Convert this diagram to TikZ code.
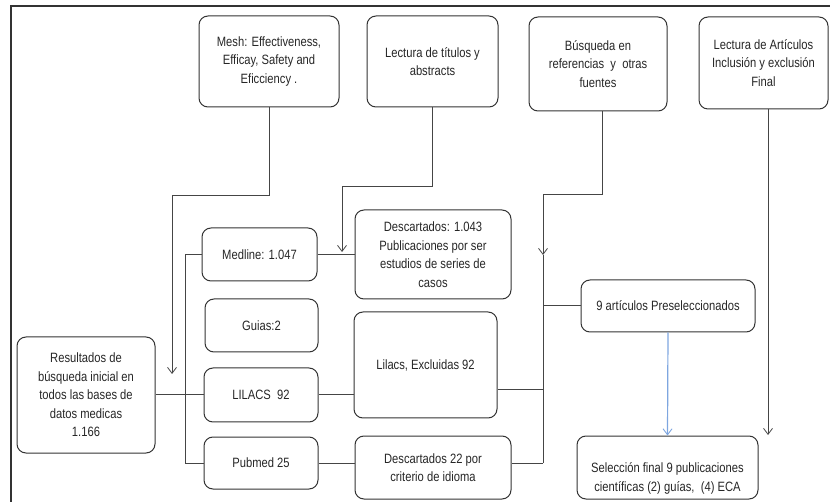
\documentclass[tikz,border=0pt]{standalone}
\usepackage{fontspec}
\setmainfont[FakeStretch=0.83]{Liberation Sans}
\usetikzlibrary{arrows.meta,calc}
\definecolor{boxline}{HTML}{333333}
\definecolor{connline}{HTML}{454545}
\definecolor{txtcol}{HTML}{262626}
\definecolor{linkblue}{HTML}{7EA6E0}
\begin{document}
\begin{tikzpicture}[x=1pt,y=-1pt,
  box/.style={draw=boxline,line width=1pt,rounded corners=9pt,align=center,inner sep=2pt,
    text=txtcol,font=\fontsize{13.5}{18.5}\selectfont},
  conn/.style={draw=connline,line width=1pt},
  arr/.style={conn,-{Straight Barb[length=6pt,width=9pt,line width=0.8pt]}},
  bluearr/.style={draw=linkblue,line width=1.2pt,-{Straight Barb[length=6pt,width=9pt,line width=0.9pt]}},
  txt/.style={align=center,inner sep=0pt,text=txtcol,font=\fontsize{13.5}{18.5}\selectfont}]
\useasboundingbox (0,0) rectangle (830,502);
\draw[boxline,line width=1.2pt] (11,502) -- (11,6) -- (830,6);

% top row
\node[box,minimum width=140pt,minimum height=91pt] (mesh) at (269,61.5)
  {Mesh: Effectiveness,\\Efficay, Safety and\\Eficciency .};
\node[box,minimum width=131pt,minimum height=91pt] (titulos) at (432.5,61.5)
  {Lectura de títulos y\\abstracts};
\node[box,minimum width=138pt,minimum height=94pt] (busq) at (598,64)
  {Búsqueda en\\referencias\ \ y\ \ otras\\fuentes};
\node[box,minimum width=129pt,minimum height=92pt] (artic) at (763.5,63)
  {Lectura de Artículos\\Inclusión y exclusión\\Final};

% left column
\node[box,minimum width=138pt,minimum height=116pt] (result) at (86,395)
  {Resultados de\\búsqueda inicial en\\todos las bases de\\datos medicas\\1.166};

% databases
\node[box,minimum width=115pt,minimum height=53pt] (medline) at (259.5,254.5) {Medline: 1.047};
\node[box,minimum width=113pt,minimum height=53pt] (guias) at (261.5,325.5) {Guias:2};
\node[box,minimum width=114pt,minimum height=54pt] (lilacs) at (261,395) {LILACS\ \ 92};
\node[box,minimum width=114pt,minimum height=52pt] (pubmed) at (261,463) {Pubmed 25};

% discarded
\node[box,minimum width=156pt,minimum height=89pt] (desc1) at (433,254.5)
  {Descartados: 1.043\\Publicaciones por ser\\estudios de series de\\casos};
\node[box,minimum width=143pt,minimum height=106pt] (lilacsx) at (425.5,365)
  {Lilacs, Excluidas 92};
\node[box,minimum width=156pt,minimum height=63pt] (desc2) at (433,467.5)
  {Descartados 22 por\\criterio de idioma};

% right
\node[box,minimum width=174pt,minimum height=52pt] (pre) at (668,306)
  {9 artículos\ Preseleccionados};
\node[box,minimum width=181pt,minimum height=63pt] (sel) at (667.5,467.5) {};
\node[txt] (seltxt) at (667.5,478.5)
  {Selección final 9 publicaciones\\científicas (2) guías,\ \ (4) ECA};

% coordinates for free ends
\coordinate (meshend) at (172,374);
\coordinate (titend) at (342,252);
\coordinate (ctop) at (543,255);
\coordinate (cmid) at (543,390);
\coordinate (cbot) at (543,463);
\coordinate (articend) at (768,435);

% top arrows
\draw[arr] (mesh.south) -- ++(0,88) -| (meshend);
\draw[arr] (titulos.south) -- ++(0,79) -| (titend);
\draw[arr] ([xshift=4pt]busq.south) -- ++(0,83) -| (ctop);
\draw[arr] ([xshift=4.5pt]artic.south) -- (articend);

% left connections
\draw[conn] (result.east) -- (lilacs.west);
\draw[conn] (medline.west) -- ++(-16,0) |- (pubmed.west);

% middle connections
\draw[conn] (medline.east) -- (desc1.west);
\draw[conn] (lilacs.east) -- (lilacs.east -| lilacsx.west);
\draw[conn] (pubmed.east) -- (pubmed.east -| desc2.west);

% collector
\draw[conn] (ctop) -- (cbot);
\draw[conn] (cmid) -- (cmid -| lilacsx.east);
\draw[conn] (cbot) -- (cbot -| desc2.east);
\draw[conn] (pre.west) -- (pre.west -| ctop);

% blue arrow
\draw[bluearr] (pre.south) -- (sel.north);
\end{tikzpicture}
\end{document}
